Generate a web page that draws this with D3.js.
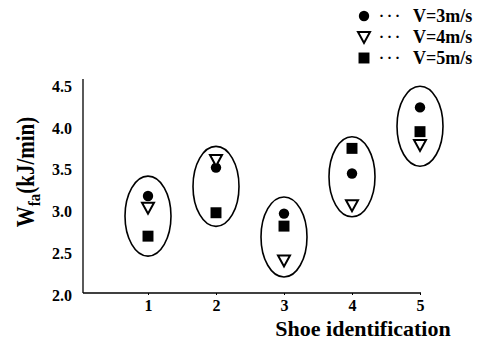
<!DOCTYPE html>
<html>
<head>
<meta charset="utf-8">
<script src="https://cdn.jsdelivr.net/npm/d3@7"></script>
<style>
  body { margin: 0; background: #fff; }
  text { font-family: "Liberation Serif", "DejaVu Serif", serif; font-weight: bold; fill: #000; }
</style>
</head>
<body>
<script>
var shoes = [1, 2, 3, 4, 5]
var yTicks = [2.0, 2.5, 3.0, 3.5, 4.0, 4.5]
var v3 = [3.16, 3.50, 2.95, 3.43, 4.22]
var v4 = [3.02, 3.59, 2.39, 3.05, 3.77]
var v5 = [2.68, 2.96, 2.80, 3.73, 3.93]
var speeds = ["V=3m/s", "V=4m/s", "V=5m/s"]

var svg = d3.select("body").append("svg")
  .attr("width", 480)
  .attr("height", 341)

var x = d3.scaleLinear().domain([1, 5]).range([148, 420])
var y = d3.scaleLinear().domain([2, 4.5]).range([293, 84])

// axes
var xAxis = svg.append("g").attr("transform", "translate(0," + y(2) + ")")
  .call(d3.axisBottom(x).tickValues(shoes).tickFormat(d3.format("d")).tickSize(2).tickPadding(5))
xAxis.select(".domain").attr("d", "M83,0H421")
xAxis.selectAll("text").style("font-size", "16px")

var yAxis = svg.append("g").attr("transform", "translate(83,0)")
  .call(d3.axisLeft(y).tickValues(yTicks).tickFormat(d3.format(".1f")).tickSize(0).tickPadding(11))
yAxis.select(".domain").attr("d", "M0," + (y(4.5) - 5) + "V" + y(2))
yAxis.selectAll("text").style("font-size", "16px").attr("dy", "0.45em")
svg.selectAll(".domain").attr("stroke", "#000").attr("stroke-width", 1.3)

// axis titles
svg.append("text")
  .attr("x", 363).attr("y", 336)
  .attr("text-anchor", "middle")
  .style("font-size", "22px")
  .text("Shoe identification")

var ylab = svg.append("text")
  .attr("transform", "translate(34,172) rotate(-90) scale(1,1.15)")
  .attr("text-anchor", "middle")
  .style("font-size", "21px")
ylab.append("tspan").text("W")
ylab.append("tspan").attr("dy", 5).style("font-size", "15px").text("fa")
ylab.append("tspan").attr("dy", -5).text("(kJ/min)")

// ellipses grouping each shoe
var groups = shoes.map(function (s, i) {
  var vals = [v3[i], v4[i], v5[i]]
  return { shoe: s, lo: d3.min(vals), hi: d3.max(vals) }
})
svg.selectAll("ellipse.grp")
  .data(groups)
  .enter().append("ellipse")
  .attr("class", "grp")
  .attr("cx", d => x(d.shoe))
  .attr("cy", d => (y(d.lo) + y(d.hi)) / 2)
  .attr("rx", 23)
  .attr("ry", 40)
  .attr("fill", "none")
  .attr("stroke", "#000")
  .attr("stroke-width", 1.6)

var circleSym = d3.symbol().type(d3.symbolCircle).size(85)
var squareSym = d3.symbol().type(d3.symbolSquare).size(120)
var triPath = "M-6,-5L6,-5L0,6Z"

function drawSeries(vals, kind) {
  var sel = svg.selectAll("path." + kind)
    .data(shoes.map((s, i) => ({ shoe: s, v: vals[i] })))
    .enter().append("path")
    .attr("class", kind)
    .attr("transform", d => "translate(" + x(d.shoe) + "," + y(d.v) + ")")
  if (kind == "tri") {
    sel.attr("d", triPath).attr("fill", "#fff").attr("stroke", "#000").attr("stroke-width", 2)
  } else {
    sel.attr("d", kind == "circ" ? circleSym : squareSym).attr("fill", "#000")
  }
}
drawSeries(v5, "sq")
drawSeries(v3, "circ")
drawSeries(v4, "tri")

// legend
var legY = [16, 37, 58]
var kinds = ["circ", "tri", "sq"]
var leg = svg.selectAll("g.leg")
  .data(speeds)
  .enter().append("g")
  .attr("class", "leg")
  .attr("transform", (d, i) => "translate(0," + legY[i] + ")")
leg.append("path")
  .attr("transform", "translate(364,0)")
  .attr("d", (d, i) => kinds[i] == "circ" ? circleSym() : kinds[i] == "sq" ? squareSym() : triPath)
  .attr("fill", (d, i) => kinds[i] == "tri" ? "#fff" : "#000")
  .attr("stroke", (d, i) => kinds[i] == "tri" ? "#000" : "none")
  .attr("stroke-width", 2)
leg.append("text")
  .attr("x", 379).attr("y", 5)
  .style("font-size", "15px")
  .style("letter-spacing", "3px")
  .text("\u00B7\u00B7\u00B7")
leg.append("text")
  .attr("x", 413).attr("y", 6)
  .style("font-size", "18px")
  .text(d => d)
</script>
</body>
</html>
